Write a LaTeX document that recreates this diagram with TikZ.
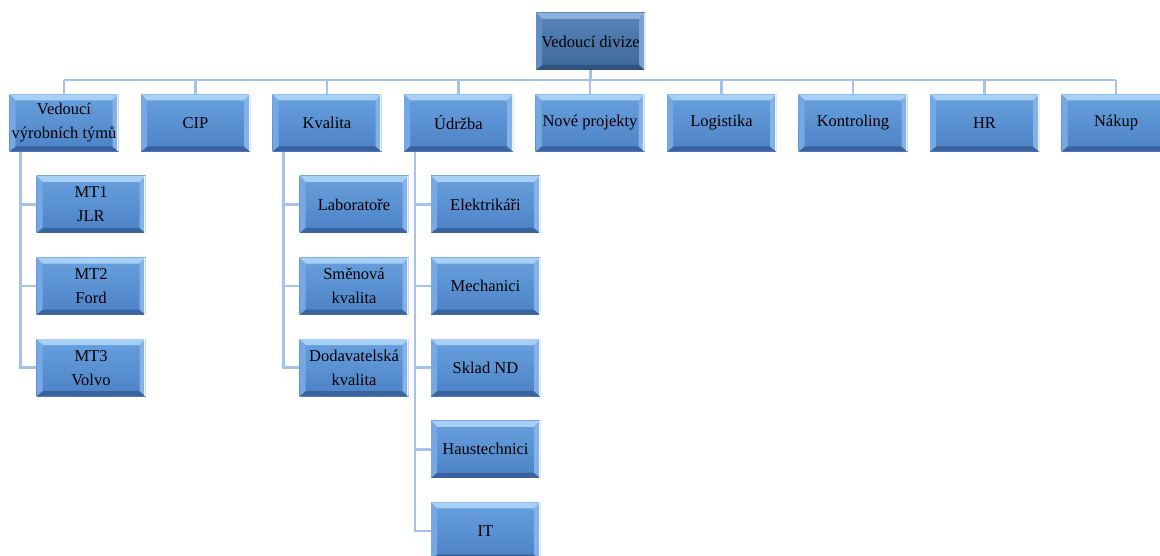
\documentclass[tikz,border=0pt]{standalone}
\usepackage{fontspec}
\setmainfont{Liberation Serif}
\usetikzlibrary{calc,backgrounds}

% connector and box colours
\definecolor{linkc}{RGB}{166,194,232}
\definecolor{uTop}{RGB}{104,160,222}
\definecolor{uBot}{RGB}{76,130,198}
\definecolor{uHi}{RGB}{168,208,246}
\definecolor{uLo}{RGB}{58,98,156}
\definecolor{uL}{RGB}{118,168,228}
\definecolor{uR}{RGB}{132,178,230}
\definecolor{hTop}{RGB}{86,132,186}
\definecolor{hBot}{RGB}{64,104,154}
\definecolor{hHi}{RGB}{140,176,218}
\definecolor{hLo}{RGB}{48,82,126}
\definecolor{hL}{RGB}{96,142,194}
\definecolor{hR}{RGB}{120,160,210}

% bevelled fill of a box: body top/bottom, top, bottom, left, right bevel
\newcommand\bevel[6]{%
  \path (path picture bounding box.south west) coordinate (bvSW)
        (path picture bounding box.north east) coordinate (bvNE)
        (path picture bounding box.north west) coordinate (bvNW)
        (path picture bounding box.south east) coordinate (bvSE);
  \shade[top color=#1,bottom color=#2] (bvSW) rectangle (bvNE);
  \fill[#3] (bvNW) -- (bvNE) -- ([shift={(-6pt,-6pt)}]bvNE) -- ([shift={(6pt,-6pt)}]bvNW) -- cycle;
  \fill[#4] (bvSW) -- (bvSE) -- ([shift={(-6pt,5pt)}]bvSE) -- ([shift={(6pt,5pt)}]bvSW) -- cycle;
  \fill[#5] (bvNW) -- (bvSW) -- ([shift={(6pt,5pt)}]bvSW) -- ([shift={(6pt,-6pt)}]bvNW) -- cycle;
  \fill[#6] (bvNE) -- (bvSE) -- ([shift={(-6pt,5pt)}]bvSE) -- ([shift={(-6pt,-6pt)}]bvNE) -- cycle;
  \fill[white!85!#6] ([shift={(-1.5pt,0pt)}]bvNE) rectangle (bvSE);
}

\tikzset{
  boxbase/.style={minimum width=109pt, minimum height=57pt, inner sep=0pt,
    align=center, text=black,
    font=\fontsize{16.5}{24}\selectfont},
  unitbox/.style={boxbase, path picture={\bevel{uTop}{uBot}{uHi}{uLo}{uL}{uR}}},
  headbox/.style={boxbase, path picture={\bevel{hTop}{hBot}{hHi}{hLo}{hL}{hR}}},
  link/.style={draw=linkc, line width=2.6pt},
}

\begin{document}
\begin{tikzpicture}[x=1pt, y=-1pt]
\clip (0,0) rectangle (1160,556);

% top of the hierarchy
\node[headbox] (head) at (590.5,41.5) {Vedoucí divize};

% departments
\node[unitbox] (vyr)  at (64,123)    {Vedoucí\\výrobních týmů};
\node[unitbox] (cip)  at (195.5,123) {CIP};
\node[unitbox] (kval) at (327,123)   {Kvalita};
\node[unitbox] (udr)  at (458.5,123) {Údržba};
\node[unitbox] (nove) at (590,123)   {Nové projekty};
\node[unitbox] (log)  at (721.5,123) {Logistika};
\node[unitbox] (kont) at (853,123)   {Kontroling};
\node[unitbox] (hr)   at (984.5,123) {HR};
\node[unitbox] (nak)  at (1116,123)  {Nákup};

% production teams
\node[unitbox] (mt1) at (91,204.5) {MT1\\JLR};
\node[unitbox] (mt2) at (91,286.1) {MT2\\Ford};
\node[unitbox] (mt3) at (91,367.7) {MT3\\Volvo};

% quality
\node[unitbox] (lab) at (354,204.5) {Laboratoře};
\node[unitbox] (smk) at (354,286.1) {Směnová\\kvalita};
\node[unitbox] (dod) at (354,367.7) {Dodavatelská\\kvalita};

% maintenance
\node[unitbox] (ele)   at (485.5,204.5) {Elektrikáři};
\node[unitbox] (mech)  at (485.5,286.1) {Mechanici};
\node[unitbox] (sklad) at (485.5,367.7) {Sklad ND};
\node[unitbox] (haus)  at (485.5,449.3) {Haustechnici};
\node[unitbox] (it)    at (485.5,530.9) {IT};

% connectors behind the boxes
\begin{scope}[on background layer]
  \coordinate (busL) at (64,80);
  \coordinate (busR) at (1116,80);
  \draw[link] (busL) -- (busR);
  \draw[link] (head.south) -- (head.south |- busL);
  \foreach \n in {vyr,cip,kval,udr,nove,log,kont,hr,nak}
    \draw[link] (\n.north) -- (\n.north |- busL);
  % vertical spines of the sub-units
  \coordinate (vyrS) at ([xshift=11pt]vyr.south west);
  \coordinate (kvalS) at ([xshift=11pt]kval.south west);
  \coordinate (udrS) at ([xshift=11pt]udr.south west);
  \foreach \c in {mt1,mt2,mt3}
    \draw[link] (vyrS) |- (\c.west);
  \foreach \c in {lab,smk,dod}
    \draw[link] (kvalS) |- (\c.west);
  \foreach \c in {ele,mech,sklad,haus,it}
    \draw[link] (udrS) |- (\c.west);
\end{scope}
\end{tikzpicture}
\end{document}
